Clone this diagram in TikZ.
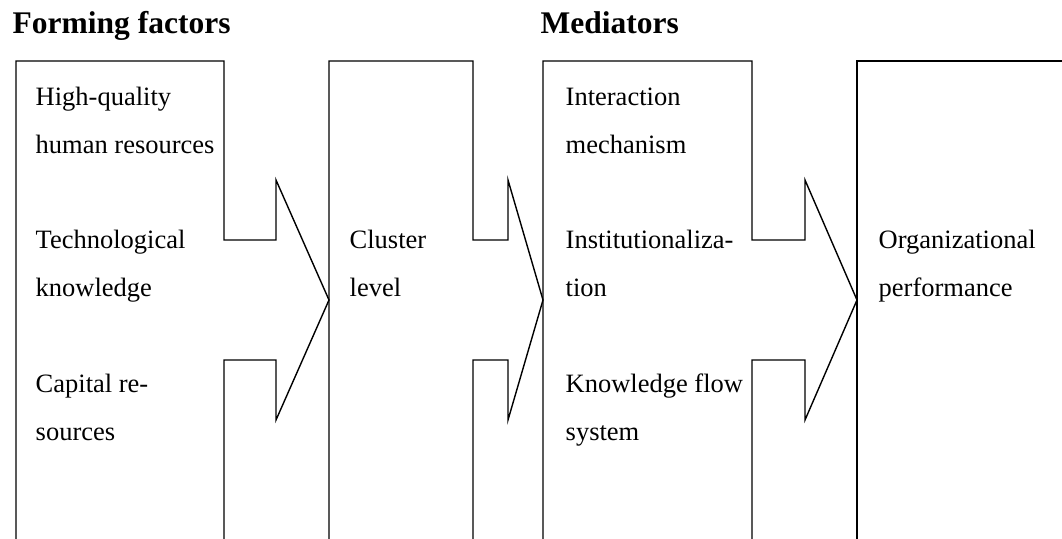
\documentclass[tikz,border=0pt]{standalone}
\usepackage{fontspec}
\setmainfont{Liberation Serif}
\begin{document}
\begin{tikzpicture}[x=1pt, y=-1pt, line width=1.4pt, line join=miter,
    label/.style={anchor=base west, inner sep=0pt, font=\fontsize{26.5}{32}\selectfont},
    heading/.style={anchor=base west, inner sep=0pt, font=\fontsize{31.5}{38}\selectfont\bfseries}]
    \useasboundingbox (0,0) rectangle (1062,538);

    % Headings
    \node[heading] (forming) at (12,33) {Forming factors};
    \node[heading] (mediators) at (540,33) {Mediators};

    % Boxes with an arrow on the right side: left/right/step/tip
    \foreach \l/\r/\s/\t in {16/224/276/329, 329/473/508/543, 543/752/805/857} {
        \draw (\l,545) -- (\l,61) -- (\r,61) -- (\r,240) -- (\s,240) -- (\s,180)
            -- (\t,300) -- (\s,420) -- (\s,360) -- (\r,360) -- (\r,545);
    }
    % Last box, open to the right
    \draw (857,545) -- (857,61) -- (1070,61);

    % Text lines, set at their baselines
    \foreach \x/\y/\txt [count=\i] in {
        35/105/High-quality, 35/153/human resources,
        35/248/Technological, 35/296/knowledge,
        35/392/Capital re-, 35/440/sources,
        349/248/Cluster, 349/296/level,
        565/105/Interaction, 565/153/mechanism,
        565/248/Institutionaliza-, 565/296/tion,
        565/392/Knowledge flow, 565/440/system,
        878/248/Organizational, 878/296/performance
    } {
        \node[label] (line\i) at (\x,\y) {\txt};
    }
\end{tikzpicture}
\end{document}
